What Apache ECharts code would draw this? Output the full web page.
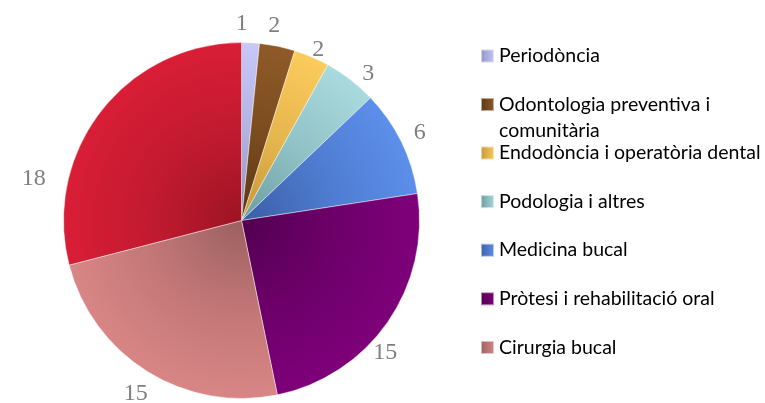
<!DOCTYPE html>
<html>
<head>
    <meta charset="UTF-8">
    <title>Pie</title>
    <style type="text/css">
        body { margin: 0; background: #fff; }
        #chart { width: 765px; height: 403px; }
    </style>
    <script type="text/javascript" src="https://cdn.jsdelivr.net/npm/echarts@6/dist/echarts.min.js"></script>
</head>
<body>
<div id="chart"></div>
<script>
    // slices, clockwise from 12 o'clock
    let names = ['Periodòncia', 'Odontologia preventiva i comunitària', 'Endodòncia i operatòria dental',
        'Podologia i altres', 'Medicina bucal', 'Pròtesi i rehabilitació oral', 'Cirurgia bucal', 'Altres'];
    let values = [1, 2, 2, 3, 6, 15, 15, 18];
    // [inner, outer] colours of each slice
    let innerColors = ['#9292c4', '#5c3612', '#c6963a', '#6a9ca0', '#3a5ea6', '#520050', '#9c6060', '#9c1424'];
    let outerColors = ['#c8c8f8', '#8f5a28', '#fbcb5c', '#a8dade', '#5c8fea', '#7e0079', '#d98585', '#d91e36'];
    // the second legend entry breaks over two lines
    let wrappedName = 'Odontologia preventiva i\ncomunitària';
    // small nudges so labels sit where the original put them
    let labelShift = [[-10, 5], [-8, 3], [-3, 15], [3, 13], [-3, 1], [-22, 17], [1, 2], [-48, 82]];

    let cx = 241.5, cy = 220.5, R = 178;
    let myChart = echarts.init(document.getElementById('chart'));

    function stops(i) {
        return [
            {offset: 0, color: innerColors[i]},
            {offset: 0.5, color: echarts.color.lerp(0.6, [innerColors[i], outerColors[i]])},
            {offset: 1, color: outerColors[i]}
        ];
    }

    let pieData = values.map(function (v, i) {
        return {
            name: names[i],
            value: v,
            itemStyle: {
                color: {type: 'radial', x: cx, y: cy, r: R, global: true, colorStops: stops(i)}
            }
        };
    });
    let labelData = values.map(function (v, i) {
        return {name: names[i], value: v};
    });

    function legendItems(from, to) {
        let out = [];
        for (let i = from; i < to; i++) {
            out.push({
                name: names[i],
                itemStyle: {
                    color: {
                        type: 'linear', x: 0, y: 0, x2: 1, y2: 0,
                        colorStops: [{offset: 0, color: innerColors[i]}, {offset: 1, color: outerColors[i]}]
                    }
                }
            });
        }
        return out;
    }

    let legendBase = {
        orient: 'vertical',
        left: 480,
        padding: 0,
        itemWidth: 13,
        itemHeight: 13,
        itemGap: 22.6,
        icon: 'rect',
        selectedMode: false,
        formatter: function (n) {
            // blank first line keeps the icon level with the first text line
            return n === names[1] ? '\n' + wrappedName : n;
        },
        textStyle: {
            fontFamily: 'Lato',
            fontSize: 19.5,
            color: '#000',
            lineHeight: 26
        }
    };

    myChart.setOption({
        animation: false,
        legend: [
            Object.assign({}, legendBase, {top: 43, data: legendItems(0, 1)}),
            Object.assign({}, legendBase, {top: 65.5, data: legendItems(1, 2)}),
            Object.assign({}, legendBase, {top: 140, data: legendItems(2, 7)})
        ],
        series: [
            {
                type: 'pie',
                center: [cx, cy],
                radius: R,
                startAngle: 90,
                clockwise: true,
                silent: true,
                label: {show: false},
                labelLine: {show: false},
                itemStyle: {borderColor: 'rgba(255,255,255,0.55)', borderWidth: 0.8},
                data: pieData
            },
            {
                type: 'pie',
                center: [cx, cy],
                radius: [R, R + 42],
                startAngle: 90,
                clockwise: true,
                silent: true,
                itemStyle: {color: 'rgba(0,0,0,0)'},
                label: {
                    show: true,
                    position: 'inside',
                    formatter: '{c}',
                    fontFamily: 'Liberation Serif',
                    fontSize: 24,
                    color: '#7f7f7f'
                },
                labelLine: {show: false},
                labelLayout: function (p) {
                    let s = labelShift[p.dataIndex];
                    return {dx: s[0], dy: s[1]};
                },
                data: labelData
            }
        ]
    });
</script>
</body>
</html>
